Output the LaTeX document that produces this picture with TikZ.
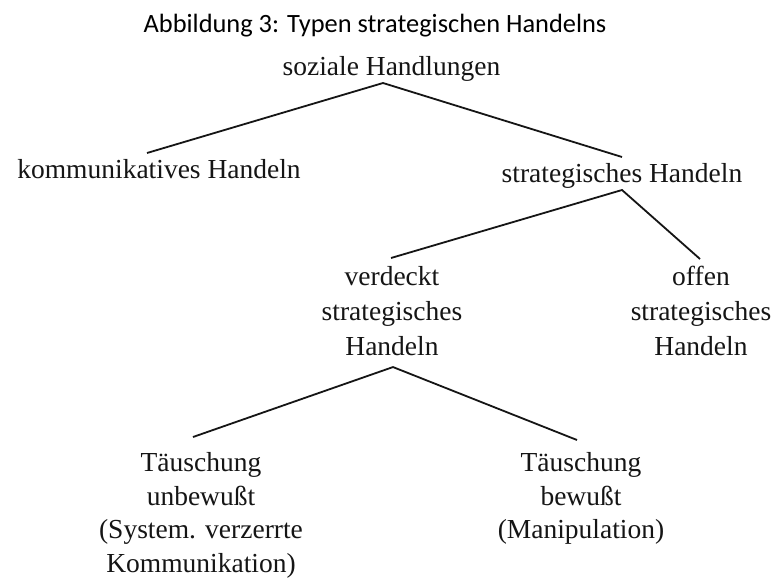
\documentclass[tikz,border=0pt]{standalone}
\usepackage{fontspec}
\setmainfont{Liberation Serif}
\newfontfamily\titlefont{Carlito}
\definecolor{ink}{HTML}{151515}
\begin{document}
\begin{tikzpicture}[x=1pt,y=-1pt,
  lbl/.style={inner sep=0pt,text=ink,font=\fontsize{27.5}{35}\selectfont},
  lblb/.style={inner sep=0pt,text=ink,align=center,font=\fontsize{27.5}{33.5}\selectfont},
  lblm/.style={inner sep=0pt,text=ink,align=center,font=\fontsize{27.5}{35}\selectfont},
  edge/.style={draw=ink,line width=1.8pt}]
\useasboundingbox[fill=white] (0,0) rectangle (771,579);
\node[inner sep=0pt,anchor=base,font=\titlefont\fontsize{26.4}{30}\selectfont] (title) at (375,32) {Abbildung 3: Typen strategischen Handelns};
\node[lbl,anchor=base] (soz) at (391.5,75) {soziale Handlungen};
\node[lbl,anchor=base] (komm) at (159,178) {kommunikatives Handeln};
\node[lbl,anchor=base] (strat) at (622,182) {strategisches Handeln};
\node[lblm,anchor=north] (verd) at (392,266.3) {verdeckt\\strategisches\\Handeln};
\node[lblm,anchor=north] (off) at (701,266.3) {offen\\strategisches\\Handeln};
\node[lblb,anchor=north] (tl) at (201,452.3) {Täuschung\\unbewußt\\(System. verzerrte\\Kommunikation)};
\node[lblb,anchor=north] (tr) at (581,452.3) {Täuschung\\bewußt\\(Manipulation)};
\draw[edge] ([xshift=-12pt,yshift=25pt]komm.base) -- ([xshift=-8.5pt,yshift=-8pt]soz.base) -- ([yshift=25pt]strat.base);
\draw[edge] ([xshift=-1pt,yshift=8.3pt]verd.north) -- ([yshift=-8pt]strat.base) -- ([xshift=-1pt,yshift=7.3pt]off.north);
\draw[edge] ([xshift=-8pt,yshift=15.3pt]tl.north) -- ([xshift=1pt,yshift=-11pt]verd.south) -- ([xshift=-4pt,yshift=12.3pt]tr.north);
\end{tikzpicture}
\end{document}
